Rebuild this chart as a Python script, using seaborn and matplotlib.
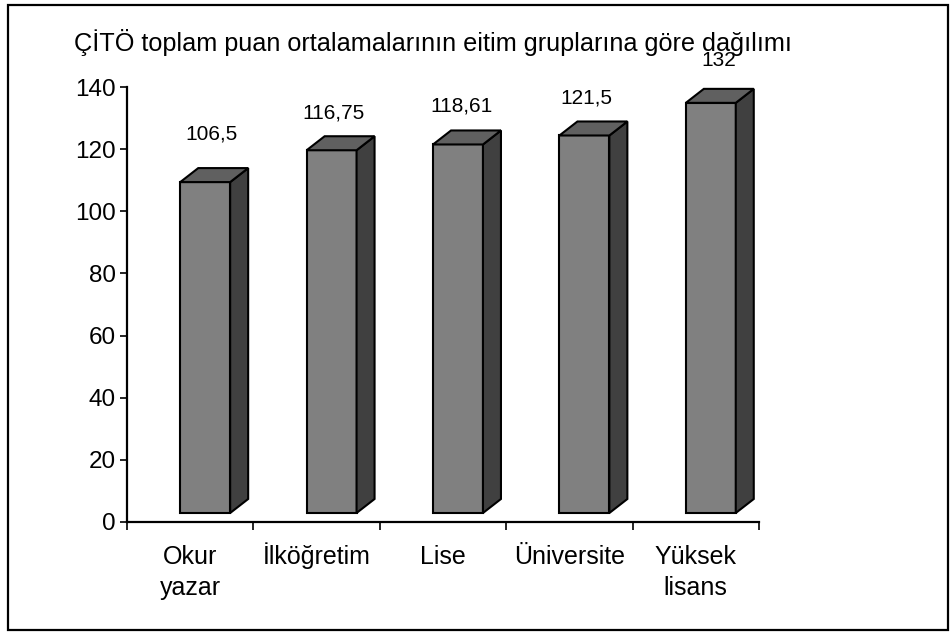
import matplotlib
matplotlib.use("Agg")
import matplotlib.pyplot as plt
import matplotlib.transforms as mtransforms
from matplotlib.patches import Polygon, Rectangle
from matplotlib.ticker import FixedLocator
import seaborn as sns
import pandas as pd

# ---- data ----
categories = ["Okur\nyazar", "İlköğretim", "Lise", "Üniversite", "Yüksek\nlisans"]
values = [106.5, 116.75, 118.61, 121.5, 132.0]
value_labels = ["106,5", "116,75", "118,61", "121,5", "132"]
y_ticks = [0, 20, 40, 60, 80, 100, 120, 140]
title = "ÇİTÖ toplam puan ortalamalarının eitim gruplarına göre dağılımı"

# ---- style ----
sns.set_theme(style="white")
plt.rcParams['font.family'] = ['Liberation Sans', 'DejaVu Sans']

W, H = 950, 632
fig = plt.figure(figsize=(W / 100, H / 100), dpi=100)
ax = fig.add_axes([127 / W, (H - 522) / H, 632 / W, 435 / H])

df = pd.DataFrame({"cat": categories, "val": values})
sns.barplot(data=df, x="cat", y="val", color="#808080", saturation=1,
            width=0.395, edgecolor="black", linewidth=1.5, ax=ax, zorder=3)

ax.set_xlim(-0.5, len(categories) - 0.5)
ax.set_ylim(0, 140)
ax.set_xlabel("")
ax.set_ylabel("")
ax.set_yticks(y_ticks)
ax.tick_params(axis="y", which="major", direction="out", length=5, width=1.2,
               color="black", labelsize=17.5, pad=3, left=True)
ax.tick_params(axis="x", which="major", length=0, labelbottom=False)
ax.xaxis.set_minor_locator(FixedLocator([i - 0.5 for i in range(len(categories) + 1)]))
ax.tick_params(axis="x", which="minor", direction="out", length=6, width=1.2,
               color="black", bottom=True)
for lab in ax.get_yticklabels():
    lab.set_color("black")
for s in ["top", "right"]:
    ax.spines[s].set_visible(False)
for s in ["left", "bottom"]:
    ax.spines[s].set_color("black")
    ax.spines[s].set_linewidth(1.6)

# category labels: each line on its own baseline under the category centre
xform = mtransforms.blended_transform_factory(ax.transData, ax.transAxes)
for i, cat in enumerate(categories):
    for k, line in enumerate(cat.split("\n")):
        t = xform + mtransforms.ScaledTranslation(0, -(42 + 31 * k) / 100, fig.dpi_scale_trans)
        ax.text(i, 0, line, transform=t, ha="center", va="baseline",
                fontsize=18, color="black", clip_on=False)

# ---- 3D faces built from the seaborn bars ----
fig.canvas.draw()
off = mtransforms.ScaledTranslation(15 / 100, 9 / 100, fig.dpi_scale_trans)
inv = ax.transData.inverted()
p0 = ax.transData.transform((0, 0))
d = inv.transform((p0[0] + 18, p0[1] + 14))
ddx, ddy = d[0], d[1]
tr = ax.transData + off

label_dx = [6, 2, 4, 2, 8]        # px, label shift
label_dy = [34, 23, 24, 23, 28]   # px above back top edge

for i, p in enumerate(list(ax.patches)):
    x0, w, h = p.get_x(), p.get_width(), p.get_height()
    p.set_transform(tr)
    p.set_clip_on(False)
    side = Polygon([(x0 + w, 0), (x0 + w + ddx, ddy), (x0 + w + ddx, h + ddy), (x0 + w, h)],
                   closed=True, fc="#404040", ec="black", lw=1.5, transform=tr,
                   clip_on=False, zorder=3, joinstyle="miter")
    top = Polygon([(x0, h), (x0 + ddx, h + ddy), (x0 + w + ddx, h + ddy), (x0 + w, h)],
                  closed=True, fc="#606060", ec="black", lw=1.5, transform=tr,
                  clip_on=False, zorder=3, joinstyle="miter")
    ax.add_patch(side)
    ax.add_patch(top)
    ax.annotate(value_labels[i], xy=(x0 + w / 2, h + ddy), xycoords=tr,
                xytext=(label_dx[i] * 0.72, label_dy[i] * 0.72), textcoords="offset points",
                ha="center", va="center", fontsize=15, color="black",
                annotation_clip=False, zorder=5)

fig.text(433 / W, 1 - 51 / H, title, ha="center", va="baseline", fontsize=18.2, color="black")

fig.patches.append(Rectangle((8 / W, 2 / H), 940 / W, 625 / H, transform=fig.transFigure,
                             fill=False, ec="black", lw=1.6, zorder=10))

fig.savefig("out.png", dpi=100, facecolor="white")
